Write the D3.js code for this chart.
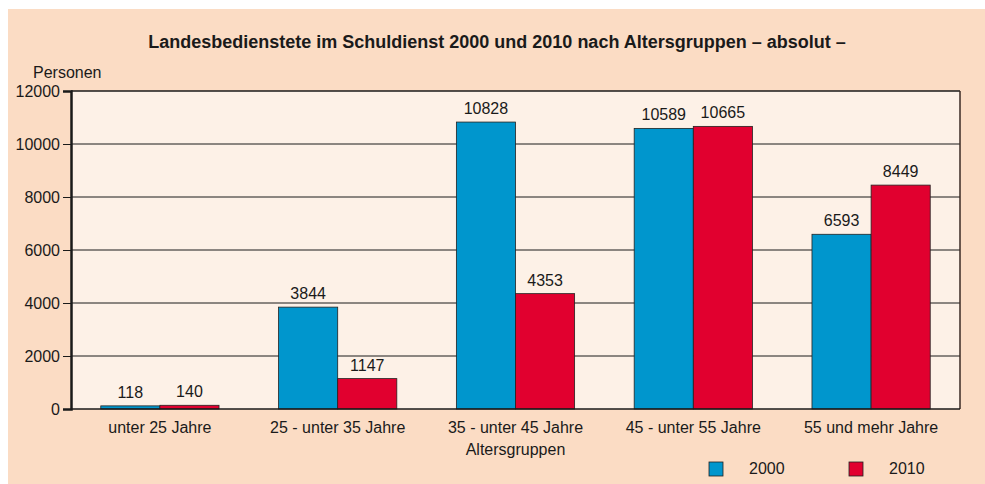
<!DOCTYPE html>
<html>
<head>
<meta charset="utf-8">
<script src="https://cdn.jsdelivr.net/npm/d3@7"></script>
<style>
  body { margin: 0; background: #fff; }
  svg text { font-family: Arial, "Liberation Sans", sans-serif; fill: #1a1a1a; }
</style>
</head>
<body>
<svg id="chart" width="985" height="484"></svg>
<script>
// data
const categories = ["unter 25 Jahre", "25 - unter 35 Jahre", "35 - unter 45 Jahre", "45 - unter 55 Jahre", "55 und mehr Jahre"];
const years = ["2000", "2010"];
const values2000 = [118, 3844, 10828, 10589, 6593];
const values2010 = [140, 1147, 4353, 10665, 8449];
const yTicks = [0, 2000, 4000, 6000, 8000, 10000, 12000];
const colors = ["#0096cd", "#e1002f"];

const svg = d3.select("#chart");
const margin = { left: 71, right: 25, top: 91, bottom: 75 };
const width = 985, height = 484;
const fs = 16;

// background
svg.append("rect").attr("x", 8).attr("y", 9).attr("width", width - 8).attr("height", height - 9)
  .attr("fill", "#fbdcc4");

const x0 = d3.scaleBand().domain(categories).range([margin.left, width - margin.right])
  .paddingInner(0.335).paddingOuter(0.1675);
const x1 = d3.scaleBand().domain(years).range([0, x0.bandwidth()]);
const y = d3.scaleLinear().domain([0, 12000]).range([height - margin.bottom, margin.top]);

// plot area
svg.append("rect")
  .attr("x", margin.left).attr("y", margin.top)
  .attr("width", width - margin.right - margin.left)
  .attr("height", y(0) - margin.top)
  .attr("fill", "#fdf1e7");

// gridlines
svg.append("g").selectAll("line").data(yTicks.slice(1)).join("line")
  .attr("x1", margin.left).attr("x2", width - margin.right)
  .attr("y1", d => y(d)).attr("y2", d => y(d))
  .attr("stroke", "#1a1a1a").attr("stroke-width", d => d === 12000 ? 1.5 : 1);

// right border
svg.append("line")
  .attr("x1", width - margin.right).attr("x2", width - margin.right)
  .attr("y1", margin.top).attr("y2", y(0))
  .attr("stroke", "#3a2a24").attr("stroke-width", 1.5);

// bars
const groups = svg.append("g").selectAll("g").data(categories).join("g")
  .attr("transform", d => `translate(${x0(d)},0)`);

groups.each(function (cat, i) {
  const g = d3.select(this);
  const vals = [values2000[i], values2010[i]];
  years.forEach((yr, j) => {
    g.append("rect")
      .attr("x", x1(yr)).attr("y", y(vals[j]))
      .attr("width", x1.bandwidth()).attr("height", y(0) - y(vals[j]))
      .attr("fill", colors[j]).attr("stroke", "#222").attr("stroke-width", 0.8);
    g.append("text")
      .attr("x", x1(yr) + x1.bandwidth() / 2).attr("y", y(vals[j]) - 8)
      .attr("text-anchor", "middle").attr("font-size", fs)
      .text(vals[j]);
  });
});

// y axis
const yAxis = svg.append("g").attr("transform", `translate(${margin.left},0)`)
  .call(d3.axisLeft(y).tickValues(yTicks).tickSize(8).tickPadding(3).tickFormat(d3.format("d")));
yAxis.select(".domain").attr("stroke", "#1a1a1a").attr("stroke-width", 2.5);
yAxis.selectAll(".tick line").attr("stroke", "#1a1a1a");
yAxis.selectAll(".tick text").attr("font-size", fs).attr("fill", "#1a1a1a")
  .attr("font-family", "Arial, 'Liberation Sans', sans-serif");

// x axis line
svg.append("line")
  .attr("x1", margin.left).attr("x2", width - margin.right)
  .attr("y1", y(0)).attr("y2", y(0))
  .attr("stroke", "#1a1a1a").attr("stroke-width", 1.5);

// category labels
svg.append("g").selectAll("text").data(categories).join("text")
  .attr("x", d => x0(d) + x0.bandwidth() / 2).attr("y", 433)
  .attr("text-anchor", "middle").attr("font-size", fs)
  .text(d => d);

// titles
svg.append("text").attr("x", 497).attr("y", 48).attr("text-anchor", "middle")
  .attr("font-size", 18).attr("font-weight", "bold")
  .text("Landesbedienstete im Schuldienst 2000 und 2010 nach Altersgruppen – absolut –");
svg.append("text").attr("x", 33).attr("y", 78).attr("font-size", fs).text("Personen");
svg.append("text").attr("x", (margin.left + width - margin.right) / 2).attr("y", 455)
  .attr("text-anchor", "middle").attr("font-size", fs).text("Altersgruppen");

// legend
const legendX = [709, 849];
years.forEach((yr, j) => {
  svg.append("rect").attr("x", legendX[j]).attr("y", 462).attr("width", 14).attr("height", 14)
    .attr("fill", colors[j]).attr("stroke", "#222").attr("stroke-width", 0.8);
  svg.append("text").attr("x", legendX[j] + 40).attr("y", 474).attr("font-size", fs).text(yr);
});
</script>
</body>
</html>
